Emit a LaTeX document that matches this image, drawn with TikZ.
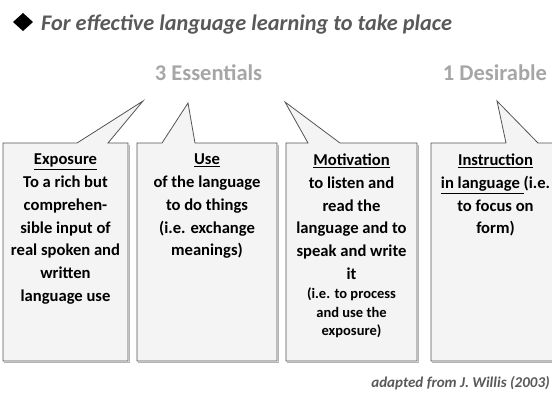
\documentclass[tikz,border=0pt]{standalone}
\usepackage{fontspec}
\setmainfont{Carlito}
\definecolor{boxline}{HTML}{555555}
\definecolor{boxfill}{HTML}{F4F4F4}
\definecolor{shadowgray}{HTML}{B4B4B4}
\definecolor{titlegray}{HTML}{595959}
\definecolor{headgray}{HTML}{A6A6A6}
\tikzset{
  callout/.style={draw=boxline, fill=boxfill, line width=0.8pt, line join=miter},
  boxshadow/.style={draw=shadowgray, line width=1pt},
  boxtext/.style={anchor=north, inner sep=0pt, align=center, font=\fontsize{16.6}{22.7}\selectfont\bfseries},
  smalltext/.style={anchor=north, inner sep=0pt, align=center, font=\fontsize{14.5}{18.3}\selectfont\bfseries},
  headtext/.style={inner sep=0pt, text=headgray, font=\fontsize{22.5}{26}\selectfont\bfseries},
}
\begin{document}
\begin{tikzpicture}[x=1pt,y=-1pt]
\useasboundingbox (0,0) rectangle (552,392);
\begin{scope}
\clip (0,0) rectangle (552,392);
% shadows
\foreach \L/\R in {3/128,137/277,286/417,431/560}{
  \draw[boxshadow] (\L+1,362.2) -- (\R+1.2,362.2) -- (\R+1.2,145);
}
% callout boxes
\draw[callout] (3,143) -- (77,143) -- (143,101) -- (108,143) -- (128,143) -- (128,361) -- (3,361) -- cycle;
\draw[callout] (137,143) -- (162,143) -- (188,103) -- (195,143) -- (277,143) -- (277,361) -- (137,361) -- cycle;
\draw[callout] (286,143) -- (308,143) -- (285,102) -- (340,143) -- (417,143) -- (417,361) -- (286,361) -- cycle;
\draw[callout] (431,143) -- (506,143) -- (497,101) -- (538,143) -- (560,143) -- (560,361) -- (431,361) -- cycle;
\end{scope}
% title
\fill[black] (13,22) -- (23,13) -- (33,22) -- (23,31) -- cycle;
\node[anchor=base west, inner sep=0pt, text=titlegray, font=\fontsize{22.3}{26}\selectfont\bfseries\itshape] (title) at (41,30) {For effective language learning to take place};
\node[headtext] (ess) at (208.5,72.5) {3 Essentials};
\node[headtext] (des) at (495,72.5) {1 Desirable};
% box texts
\node[boxtext] (t1) at (65.5,154) {\underline{Exposure}\\To a rich but\\comprehen-\\sible input of\\real spoken and\\written\\language use};
\node[boxtext] (t2) at (207,154) {\underline{Use}\\of the language\\to do things\\(i.e. exchange\\meanings)};
\node[boxtext] (t3) at (351.5,154) {\underline{Motivation}\\to listen and\\read the\\language and to\\speak and write\\it};
\node[smalltext] (t3b) at (351.5,288) {(i.e. to process\\and use the\\exposure)};
\node[boxtext] (t4) at (495.5,154) {\underline{Instruction}\\\underline{in language\ }(i.e.\\to focus on\\form)};
% credit
\node[anchor=base east, inner sep=0pt, text=titlegray, font=\fontsize{15}{18}\selectfont\bfseries\itshape] (credit) at (550,387.5) {adapted from J. Willis (2003)};
\end{tikzpicture}
\end{document}
